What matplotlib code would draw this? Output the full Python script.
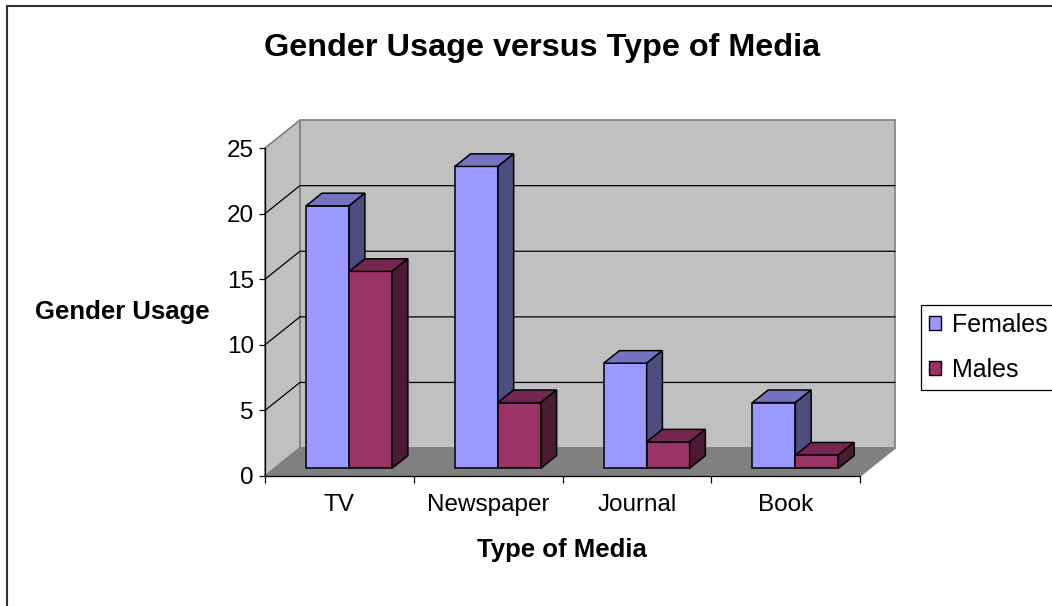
import matplotlib
matplotlib.use('Agg')
import matplotlib.pyplot as plt
from matplotlib.patches import Polygon, Rectangle

plt.rcParams['font.family'] = ['Liberation Sans', 'DejaVu Sans']

# data
categories = ['TV', 'Newspaper', 'Journal', 'Book']
females = [20, 23, 8, 5]
males = [15, 5, 2, 1]
series_names = ['Females', 'Males']

# colours (front, top, side) like the old excel 3d look
f_cols = ('#9999FF', '#7373C0', '#4D4D80')
m_cols = ('#993366', '#732650', '#4D1A33')
wall_col = '#C0C0C0'
floor_col = '#808080'

fig = plt.figure(figsize=(10.52, 6.06), dpi=100)
ax = fig.add_axes([265 / 1052, 130 / 606, 595 / 1052, 328 / 606])
ax.set_xlim(0, len(categories))
ax.set_ylim(0, 25)
ax.patch.set_visible(False)

# depth of the 3d box in data units
DX = 0.235
DY = 2.13


def pt(x, y, f):
    return (x + f * DX, y + f * DY)


def poly(pts, fc, ec, lw=1.0, z=1):
    ax.add_patch(Polygon(pts, closed=True, facecolor=fc, edgecolor=ec,
                         linewidth=lw, zorder=z, clip_on=False))


n = len(categories)
# walls and floor
poly([pt(0, 0, 1), pt(n, 0, 1), pt(n, 25, 1), pt(0, 25, 1)], wall_col, '#808080', 1.2, 0)
poly([pt(0, 0, 0), pt(0, 0, 1), pt(0, 25, 1), pt(0, 25, 0)], wall_col, '#808080', 1.2, 0)
poly([pt(0, 0, 0), pt(n, 0, 0), pt(n, 0, 1), pt(0, 0, 1)], floor_col, '#808080', 1.2, 0)

for v in [5, 10, 15, 20]:
    x0, y0 = pt(0, v, 0)
    x1, y1 = pt(0, v, 1)
    x2, y2 = pt(n, v, 1)
    ax.plot([x0, x1, x2], [y0, y1, y2], color='black', lw=0.9, zorder=0.5, clip_on=False)

# bars
w = 0.289
f0, f1 = 0.28, 0.73
for i in range(n):
    c = i + 0.5
    for x0, x1, v, cols in [(c - w, c, females[i], f_cols), (c, c + w, males[i], m_cols)]:
        poly([pt(x0, 0, f0), pt(x1, 0, f0), pt(x1, v, f0), pt(x0, v, f0)], cols[0], 'black', 1.1, 2)
        poly([pt(x0, v, f0), pt(x1, v, f0), pt(x1, v, f1), pt(x0, v, f1)], cols[1], 'black', 1.1, 2)
        poly([pt(x1, 0, f0), pt(x1, 0, f1), pt(x1, v, f1), pt(x1, v, f0)], cols[2], 'black', 1.1, 2)

# axes look
for s in ['top', 'right']:
    ax.spines[s].set_visible(False)
for s in ['left', 'bottom']:
    ax.spines[s].set_linewidth(0.9)
    ax.spines[s].set_zorder(3)
ax.set_yticks(range(0, 26, 5))
ax.set_xticks(range(0, n + 1))
ax.set_xticklabels([])
ax.set_xticks([i + 0.5 for i in range(n)], minor=True)
ax.set_xticklabels(categories, minor=True)
ax.tick_params(axis='y', length=4, width=0.9, pad=4, labelsize=17.5)
ax.tick_params(axis='x', which='major', length=5, width=0.9)
ax.tick_params(axis='x', which='minor', length=0, pad=13, labelsize=17.5)

ax.set_ylabel('Gender Usage', fontsize=18.5, fontweight='bold', rotation=0,
              ha='center', va='center')
ax.yaxis.set_label_coords(-0.239, 0.5)
ax.set_xlabel('Type of Media', fontsize=18.5, fontweight='bold', va='center')
ax.xaxis.set_label_coords(0.499, -0.226)

fig.text(542 / 1052, 1 - 48 / 606, 'Gender Usage versus Type of Media',
         fontsize=23.3, fontweight='bold', ha='center', va='center')

# chart border (only left/top inside picture)
fig.add_artist(Rectangle((7 / 1052, -0.1), 1.2, 1 - 6 / 606 + 0.1, transform=fig.transFigure,
                         fill=False, edgecolor='#333333', linewidth=1.5))

# legend
handles = [Rectangle((0, 0), 1, 1, facecolor=f_cols[0], edgecolor='black', lw=1.0),
           Rectangle((0, 0), 1, 1, facecolor=m_cols[0], edgecolor='black', lw=1.0)]
leg = fig.legend(handles, series_names, loc='upper left',
                 bbox_to_anchor=(921 / 1052, 1 - 305 / 606), fontsize=18,
                 fancybox=False, edgecolor='black', framealpha=1,
                 handlelength=0.48, handleheight=0.48, handletextpad=0.44,
                 labelspacing=0.85, borderpad=0.32, borderaxespad=0)
leg.get_frame().set_linewidth(0.9)

fig.savefig('out.png', dpi=100)
